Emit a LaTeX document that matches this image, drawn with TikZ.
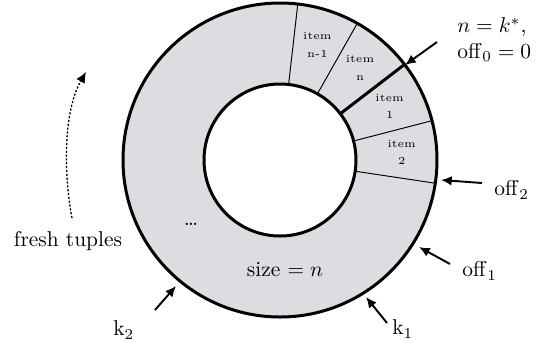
\documentclass[tikz,border=0pt]{standalone}
\usetikzlibrary{arrows.meta,calc}
\definecolor{ringgray}{HTML}{DCDDE0}
\begin{document}
\begin{tikzpicture}[x=0.4667pt,y=-0.4667pt,
  ring/.style={line width=1.4pt},
  sep/.style={line width=0.45pt},
  sepbold/.style={line width=1.4pt},
  itemlbl/.style={font=\tiny,align=center,inner sep=0pt},
  lbl/.style={inner sep=0pt},
  ptr/.style={line width=0.9pt,-{Latex[length=5pt,width=4.5pt]}},
  fresh/.style={line width=0.6pt,dash pattern=on 1pt off 0.8pt,-{Latex[length=5pt,width=4.5pt]}}]
\useasboundingbox (0,0) rectangle (542,344);
\coordinate (c) at (280,160);
\fill[ringgray,even odd rule] (c) circle[radius=157] (c) circle[radius=76];
% separators (angles negated because the y axis points down)
\foreach \a in {-83.5,-60.5,-14.5,8.5}{
  \draw[sep] ($(c)+(\a:76)$) -- ($(c)+(\a:157)$);
}
\draw[sepbold] ($(c)+(-37.5:76)$) -- ($(c)+(-37.5:157)$);
\draw[ring] (c) circle[radius=157];
\draw[ring] (c) circle[radius=76];
% item labels
\node[itemlbl] (inm1) at ($(c)+(-72:121)$) {item\\[2pt]n-1};
\node[itemlbl] (in) at ($(c)+(-49:122)$) {item\\[2pt]n};
\node[itemlbl] (i1) at ($(c)+(-26:122)$) {item\\[2pt]1};
\node[itemlbl] (i2) at ($(c)+(-3.5:122)$) {item\\[2pt]2};
\node[lbl] (dots) at (191,224) {\dots};
\node[lbl] (size) at (285,270) {size $=n$};
% labels
\node[lbl,anchor=west,align=left] (l0) at (457,40) {$n=k^{*}$,\\$\mathrm{off}_0=0$};
\node[lbl,anchor=west] (l2) at (494,190) {$\mathrm{off}_2$};
\node[lbl,anchor=west] (l1) at (462,271) {$\mathrm{off}_1$};
\node[lbl,anchor=west] (lk1) at (392,329) {$\mathrm{k}_1$};
\node[lbl,anchor=west] (lk2) at (113,330) {$\mathrm{k}_2$};
\node[lbl] (lf) at (68,241) {fresh tuples};
% arrow coordinates
\coordinate (a0s) at (437,42);  \coordinate (a0t) at (405,65);
\coordinate (a2s) at (482,183); \coordinate (a2t) at (441,180);
\coordinate (a1s) at (450,264); \coordinate (a1t) at (419,247);
\coordinate (k1s) at (387,323); \coordinate (k1t) at (366,297);
\coordinate (k2s) at (155,310); \coordinate (k2t) at (176,286);
\coordinate (fs) at (72,218);   \coordinate (ft) at (86,72);
\draw[ptr] (a0s) -- (a0t);
\draw[ptr] (a2s) -- (a2t);
\draw[ptr] (a1s) -- (a1t);
\draw[ptr] (k1s) -- (k1t);
\draw[ptr] (k2s) -- (k2t);
\draw[fresh] (fs) .. controls (63,170) and (64,110) .. (ft);
\end{tikzpicture}
\end{document}
